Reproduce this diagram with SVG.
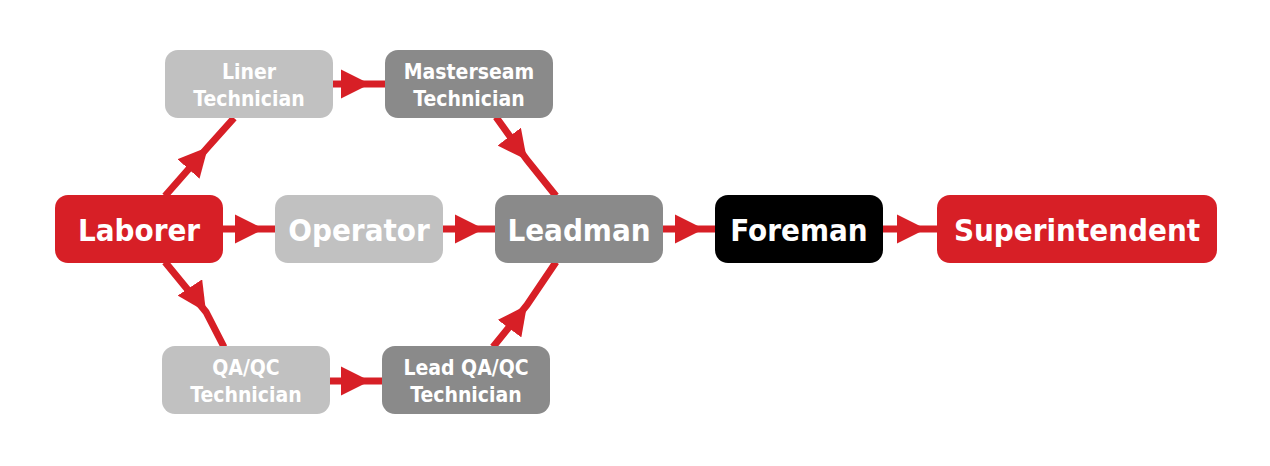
<svg xmlns="http://www.w3.org/2000/svg" width="1270" height="466" viewBox="0 0 1270 466">
<defs>
<marker id="ah" viewBox="0 0 10 10" refX="10" refY="5" markerWidth="4.2" markerHeight="4.2" orient="auto" markerUnits="strokeWidth"><path d="M0,0 L10,5 L0,10 z" fill="#d71f26"/></marker>
</defs>
<style>
.c{stroke:#d71f26;stroke-width:7;fill:none;marker-mid:url(#ah)}
text{font-family:"DejaVu Sans Condensed","Liberation Sans Narrow","Liberation Sans",sans-serif;font-stretch:condensed;font-weight:bold;fill:#fff;text-anchor:middle}
.b{font-size:31px}
.s{font-size:21px}
</style>
<rect width="1270" height="466" fill="#fff"/>
<g id="connectors">
<path class="c" d="M165,196 L208,147 L234,118"/>
<path class="c" d="M333,84 L370,84 L385,84"/>
<path class="c" d="M496,117 L527,160 L556,196"/>
<path class="c" d="M223,229 L264,229 L275,229"/>
<path class="c" d="M443,229 L484,229 L495,229"/>
<path class="c" d="M663,229 L704,229 L715,229"/>
<path class="c" d="M883,229 L926,229 L937,229"/>
<path class="c" d="M165,262 L206,312 L224,347"/>
<path class="c" d="M330,381 L370,381 L382,381"/>
<path class="c" d="M493,347 L527,305 L556,262"/>
</g>
<g id="laborer"><rect x="55" y="195" width="168" height="68" rx="13" fill="#d71f26"/><text class="b" x="139" y="241">Laborer</text></g>
<g id="operator"><rect x="275" y="195" width="168" height="68" rx="13" fill="#c1c1c1"/><text class="b" x="359" y="241">Operator</text></g>
<g id="leadman"><rect x="495" y="195" width="168" height="68" rx="13" fill="#8a8a8a"/><text class="b" x="579" y="241">Leadman</text></g>
<g id="foreman"><rect x="715" y="195" width="168" height="68" rx="13" fill="#000"/><text class="b" x="799" y="241">Foreman</text></g>
<g id="superintendent"><rect x="937" y="195" width="280" height="68" rx="13" fill="#d71f26"/><text class="b" x="1077" y="241">Superintendent</text></g>
<g id="liner"><rect x="165" y="50" width="168" height="68" rx="13" fill="#c1c1c1"/><text class="s" x="249" y="79">Liner</text><text class="s" x="249" y="106">Technician</text></g>
<g id="masterseam"><rect x="385" y="50" width="168" height="68" rx="13" fill="#8a8a8a"/><text class="s" x="469" y="79">Masterseam</text><text class="s" x="469" y="106">Technician</text></g>
<g id="qaqc"><rect x="162" y="346" width="168" height="68" rx="13" fill="#c1c1c1"/><text class="s" x="246" y="375">QA/QC</text><text class="s" x="246" y="402">Technician</text></g>
<g id="leadqaqc"><rect x="382" y="346" width="168" height="68" rx="13" fill="#8a8a8a"/><text class="s" x="466" y="375">Lead QA/QC</text><text class="s" x="466" y="402">Technician</text></g>
</svg>
